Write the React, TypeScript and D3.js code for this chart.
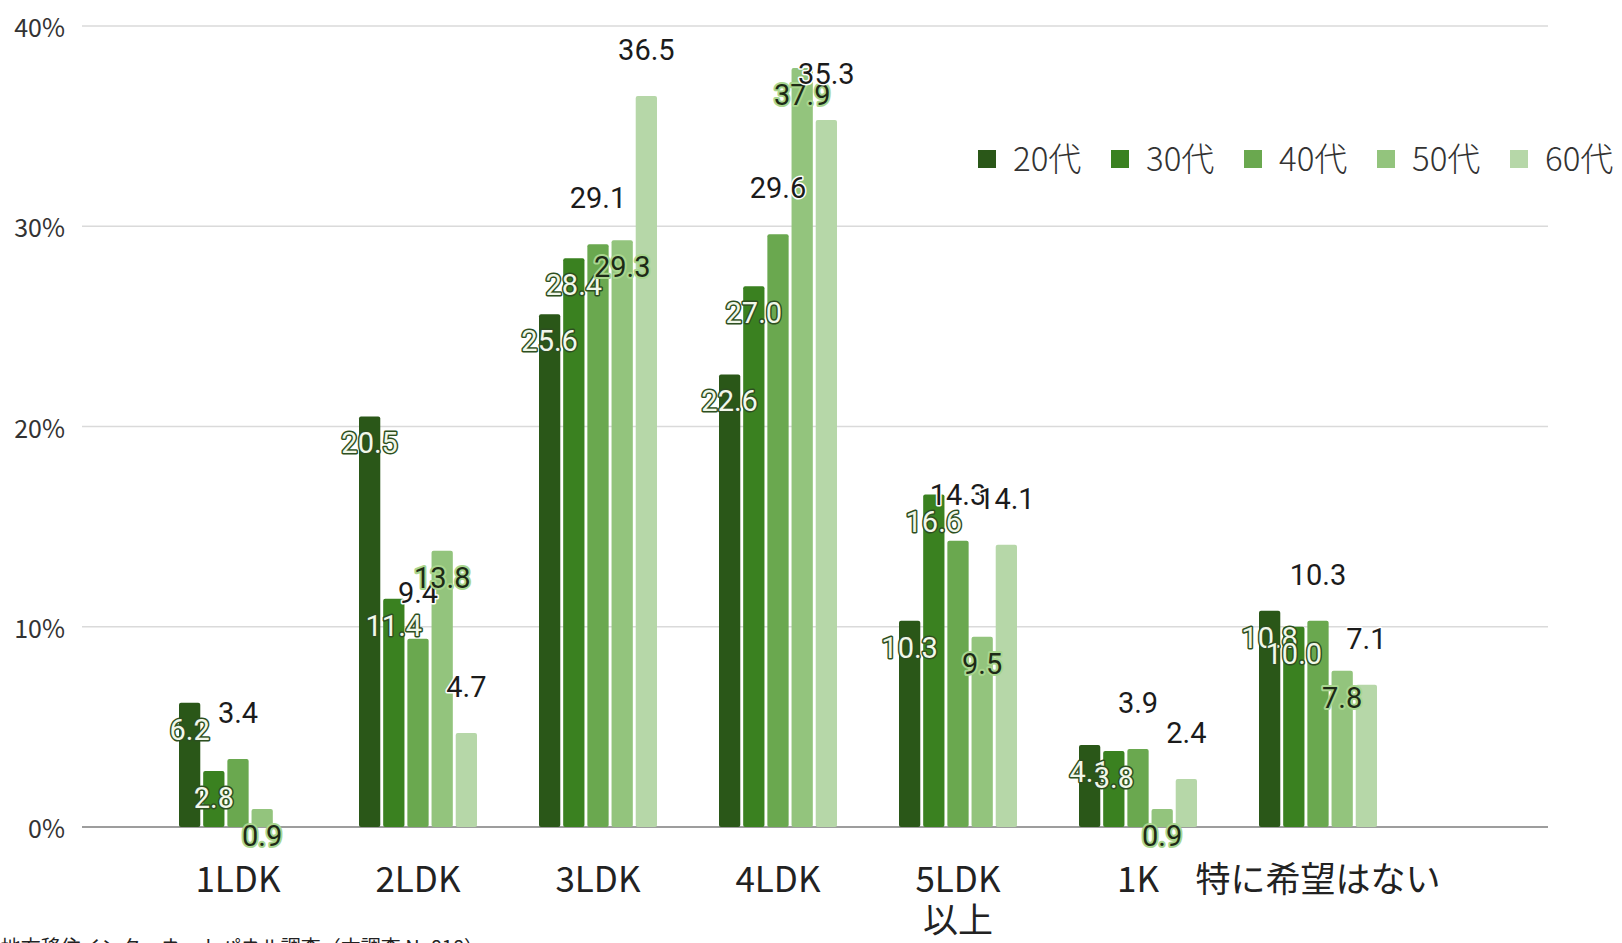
import React from 'react';
import * as d3 from 'd3';

// Preferred floor plan by age group (%)
const categories = ['1LDK', '2LDK', '3LDK', '4LDK', '5LDK\n以上', '1K', '特に希望はない'];
const seriesNames = ['20代', '30代', '40代', '50代', '60代'];

const values20s = [6.2, 20.5, 25.6, 22.6, 10.3, 4.1, 10.8];
const values30s = [2.8, 11.4, 28.4, 27.0, 16.6, 3.8, 10.0];
const values40s = [3.4, 9.4, 29.1, 29.6, 14.3, 3.9, 10.3];
const values50s = [0.9, 13.8, 29.3, 37.9, 9.5, 0.9, 7.8];
const values60s = [0, 4.7, 36.5, 35.3, 14.1, 2.4, 7.1];

const yTicks = [0, 10, 20, 30, 40];
const sourceNote = '地方移住インターネットパネル調査（本調査 N=818）';

const seriesValues = [values20s, values30s, values40s, values50s, values60s];
const colors = ['#2a5718', '#3a8120', '#6aa84f', '#93c47d', '#b6d7a8'];

// label placement per series: inside the bar top or floating above it
const labelModes = ['inside', 'inside', 'above', 'halo', 'above'];

const W = 1622;
const H = 943;
const plotLeft = 82;
const plotRight = 1548;

const JP = '"Noto Sans CJK JP", "Noto Sans", sans-serif';
const NUM = 'Roboto, "Noto Sans", sans-serif';

export default function App() {
  const y = d3.scaleLinear().domain([0, 40]).range([827, 26]);
  const xGroup = d3.scalePoint<string>().domain(categories).range([238, 1318]);
  const xBar = d3.scaleBand<string>().domain(seriesNames).range([-59, 59]).paddingInner(0.12);

  const bars: any[] = [];
  categories.forEach((c, ci) => {
    seriesNames.forEach((s, si) => {
      bars.push({ c, s, si, v: seriesValues[si][ci] });
    });
  });

  const labelStyle = (mode: string) => {
    if (mode === 'inside')
      return { fill: '#f1f7ea', stroke: '#2d4f20', strokeWidth: 3 };
    if (mode === 'halo')
      return { fill: '#1d2a16', stroke: '#a9d68e', strokeWidth: 4 };
    return { fill: '#1b1b1b', stroke: '#ffffff', strokeWidth: 3 };
  };

  return (
    <svg
      width={W}
      height={H}
      style={{ position: 'absolute', left: 0, top: 0, background: '#fff' }}
    >
      <rect x={0} y={0} width={W} height={H} fill="#fff" />

      {/* grid and y axis */}
      {yTicks.map((t) => (
        <g key={t}>
          <line
            x1={plotLeft}
            x2={plotRight}
            y1={y(t)}
            y2={y(t)}
            stroke={t === 0 ? '#7d7d7d' : '#dadada'}
            strokeWidth={t === 0 ? 1.6 : 1.4}
          />
          <text
            x={65}
            y={y(t)}
            textAnchor="end"
            dominantBaseline="central"
            fontFamily={JP}
            fontSize={25}
            fill="#333"
          >
            {t}%
          </text>
        </g>
      ))}

      {/* bars */}
      {bars.map((b) =>
        b.v > 0 ? (
          <rect
            key={b.c + b.s}
            x={(xGroup(b.c) as number) + (xBar(b.s) as number)}
            y={y(b.v)}
            width={xBar.bandwidth()}
            height={y(0) - y(b.v)}
            rx={2}
            fill={colors[b.si]}
          />
        ) : null
      )}

      {/* value labels */}
      {bars.map((b) => {
        if (b.v <= 0) return null;
        const mode = labelModes[b.si];
        const st = labelStyle(mode);
        const cx = (xGroup(b.c) as number) + (xBar(b.s) as number) + xBar.bandwidth() / 2;
        const cy = mode === 'above' ? y(b.v) - 46 : y(b.v) + 27;
        return (
          <text
            key={'l' + b.c + b.s}
            x={cx}
            y={cy}
            textAnchor="middle"
            dominantBaseline="central"
            fontFamily={NUM}
            fontSize={29}
            fill={st.fill}
            stroke={st.stroke}
            strokeWidth={st.strokeWidth}
            strokeLinejoin="round"
            paintOrder="stroke"
          >
            {b.v.toFixed(1)}
          </text>
        );
      })}

      {/* category axis */}
      {categories.map((c) => (
        <text
          key={'c' + c}
          x={xGroup(c) as number}
          y={892}
          textAnchor="middle"
          fontFamily={JP}
          fontSize={35}
          fill="#222"
        >
          {c.split('\n').map((line, i) => (
            <tspan key={i} x={xGroup(c) as number} dy={i === 0 ? 0 : 41}>
              {line}
            </tspan>
          ))}
        </text>
      ))}

      {/* legend */}
      {seriesNames.map((s, i) => {
        const lx = 978 + i * 133;
        return (
          <g key={'lg' + s}>
            <rect x={lx} y={150} width={18} height={18} fill={colors[i]} />
            <text
              x={lx + 35}
              y={171}
              fontFamily={JP}
              fontSize={33}
              fontWeight={300}
              fill="#333"
            >
              {s}
            </text>
          </g>
        );
      })}

      {/* source note */}
      <text x={484} y={955} textAnchor="end" fontFamily={JP} fontSize={20} fill="#222">
        {sourceNote}
      </text>
    </svg>
  );
}
